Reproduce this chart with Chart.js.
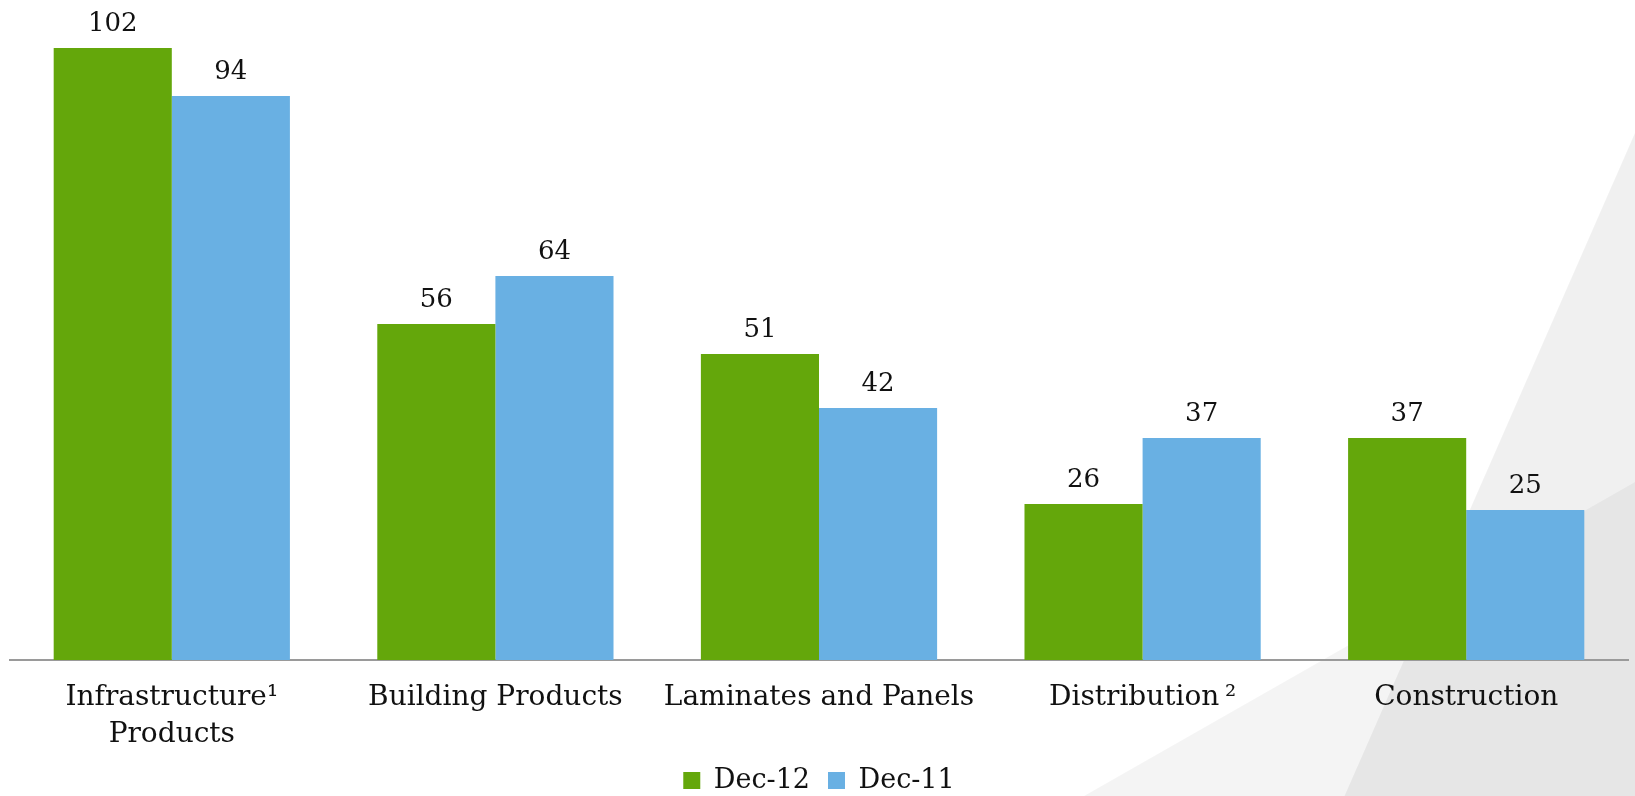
<!DOCTYPE html>
<html>
<head>
<meta charset="utf-8">
<script src="https://cdn.jsdelivr.net/npm/chart.js@4"></script>
<style>
  html, body { margin: 0; padding: 0; background: #fff; overflow: hidden; }
  #chart-div { position: relative; width: 1635px; height: 804px; }
</style>
</head>
<body>
<div id="chart-div"><canvas id="segment-chart"></canvas></div>
<script>
const categories = [['Infrastructure\u00b9', 'Products'], 'Building Products', 'Laminates and Panels', 'Distribution\u2009\u00b2', 'Construction'];
const dec12Values = [102, 56, 51, 26, 37];
const dec11Values = [94, 64, 42, 37, 25];
const seriesNames = ['Dec-12', 'Dec-11'];

const chartColors = {
    green: '#64a70b',
    blue: '#69b0e3',
    axis: '#9a9a9a'
};

// light grey slanted panels behind the chart (decoration only)
const backgroundShapes = {
    id: 'backgroundShapes',
    beforeDraw(chart) {
        const ctx = chart.ctx;
        const w = chart.width, h = chart.height;
        ctx.save();
        ctx.fillStyle = 'rgba(0,0,0,0.06)';
        ctx.beginPath();
        ctx.moveTo(w, 133);
        ctx.lineTo(w, h);
        ctx.lineTo(1341, h);
        ctx.closePath();
        ctx.fill();
        ctx.fillStyle = 'rgba(0,0,0,0.045)';
        ctx.beginPath();
        ctx.moveTo(1070, h);
        ctx.lineTo(w, 482);
        ctx.lineTo(w, h);
        ctx.closePath();
        ctx.fill();
        ctx.restore();
    }
};

const valueLabels = {
    id: 'valueLabels',
    afterDatasetsDraw(chart) {
        const ctx = chart.ctx;
        ctx.save();
        ctx.font = '26px "DejaVu Serif"';
        ctx.fillStyle = '#111';
        ctx.textAlign = 'center';
        ctx.textBaseline = 'alphabetic';
        chart.data.datasets.forEach((dataset, i) => {
            chart.getDatasetMeta(i).data.forEach((bar, j) => {
                ctx.fillText(dataset.data[j], bar.x, bar.y - 17);
            });
        });
        ctx.restore();
    }
};

const chartJSConfig = {
    type: 'bar',
    data: {
        labels: categories,
        datasets: [
            { label: seriesNames[0], data: dec12Values, backgroundColor: chartColors.green, borderWidth: 0 },
            { label: seriesNames[1], data: dec11Values, backgroundColor: chartColors.blue, borderWidth: 0 }
        ]
    },
    options: {
        responsive: true,
        maintainAspectRatio: false,
        animation: false,
        layout: { padding: { left: 10, right: 7, top: 0, bottom: 0 } },
        datasets: {
            bar: { barPercentage: 1, categoryPercentage: 0.73 }
        },
        scales: {
            x: {
                grid: { display: false, drawTicks: false },
                border: { display: true, color: chartColors.axis, width: 2 },
                ticks: {
                    color: '#111',
                    font: { family: '"DejaVu Serif"', size: 28, lineHeight: 1.3 },
                    padding: 20,
                    maxRotation: 0,
                    autoSkip: false
                },
                afterFit(scale) {
                    scale.height = 89;
                }
            },
            y: {
                display: false,
                min: 0,
                max: 110
            }
        },
        plugins: {
            legend: {
                position: 'bottom',
                labels: {
                    boxWidth: 17,
                    boxHeight: 17,
                    padding: 18,
                    color: '#111',
                    font: { family: '"DejaVu Serif"', size: 27 }
                }
            },
            tooltip: { enabled: false }
        }
    },
    plugins: [backgroundShapes, valueLabels]
};

const ctx = document.getElementById('segment-chart').getContext('2d');
window.segmentChart = new Chart(ctx, chartJSConfig);
</script>
</body>
</html>
